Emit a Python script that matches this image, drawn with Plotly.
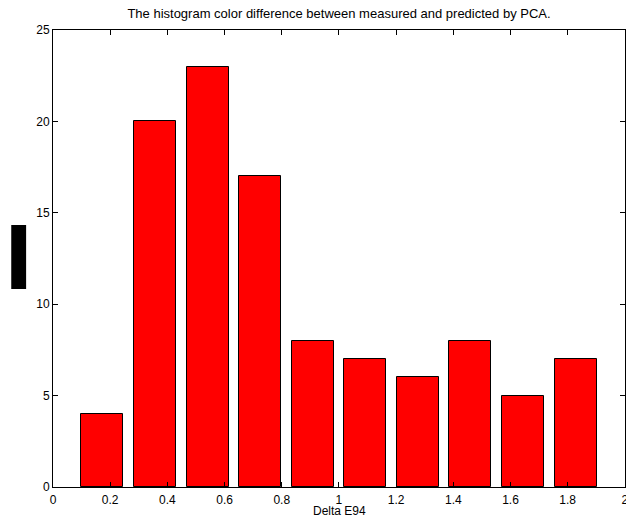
import plotly.graph_objects as go

bin_centers = [0.173, 0.357, 0.541, 0.725, 0.909, 1.092, 1.276, 1.460, 1.644, 1.828]
counts = [4, 20, 23, 17, 8, 7, 6, 8, 5, 7]
bar_width = 0.147

x_ticks = [0, 0.2, 0.4, 0.6, 0.8, 1, 1.2, 1.4, 1.6, 1.8, 2]
y_ticks = [0, 5, 10, 15, 20, 25]

fig = go.Figure()
fig.add_trace(go.Bar(
    x=bin_centers, y=counts, width=bar_width,
    marker=dict(color="#ff0000", line=dict(color="black", width=1)),
    showlegend=False,
))

font = dict(family="Liberation Sans, Arial, sans-serif", size=12, color="black")
axis_common = dict(
    showline=True, linecolor="black", linewidth=1, mirror="ticks",
    ticks="inside", ticklen=5, tickcolor="black", showgrid=False,
    zeroline=False, tickfont=font, automargin=False,
)
fig.update_layout(
    width=626, height=519,
    margin=dict(l=53, r=1, t=30, b=32, autoexpand=False),
    plot_bgcolor="white", paper_bgcolor="white",
    font=font,
    bargap=0,
    xaxis=dict(range=[0, 2.0005], tickvals=x_ticks, ticklabelstandoff=2,
               ticklabeloverflow="allow",
               ticktext=[f"{v:g}" for v in x_ticks], **axis_common),
    yaxis=dict(range=[0, 25], tickvals=y_ticks, **axis_common),
    title=dict(text="The histogram color difference between measured and predicted by PCA.",
               x=0.5, xanchor="center", xref="paper", y=1 - 13 / 519, yref="container",
               yanchor="middle", font=dict(font, size=13)),
    annotations=[dict(text="Delta E94", x=0.5, xref="paper", y=0, yref="paper",
                      yanchor="middle", yshift=-24, showarrow=False, font=font)],
    shapes=[dict(type="rect", xref="paper", yref="paper",
                 x0=-0.073, x1=-0.047, y0=(487 - 289) / 457, y1=(487 - 225) / 457,
                 fillcolor="black", line=dict(width=0))],
)
fig.write_html("out.html", config={"displayModeBar": False},
               post_script="document.body.style.margin='0';document.body.style.overflow='hidden';")
